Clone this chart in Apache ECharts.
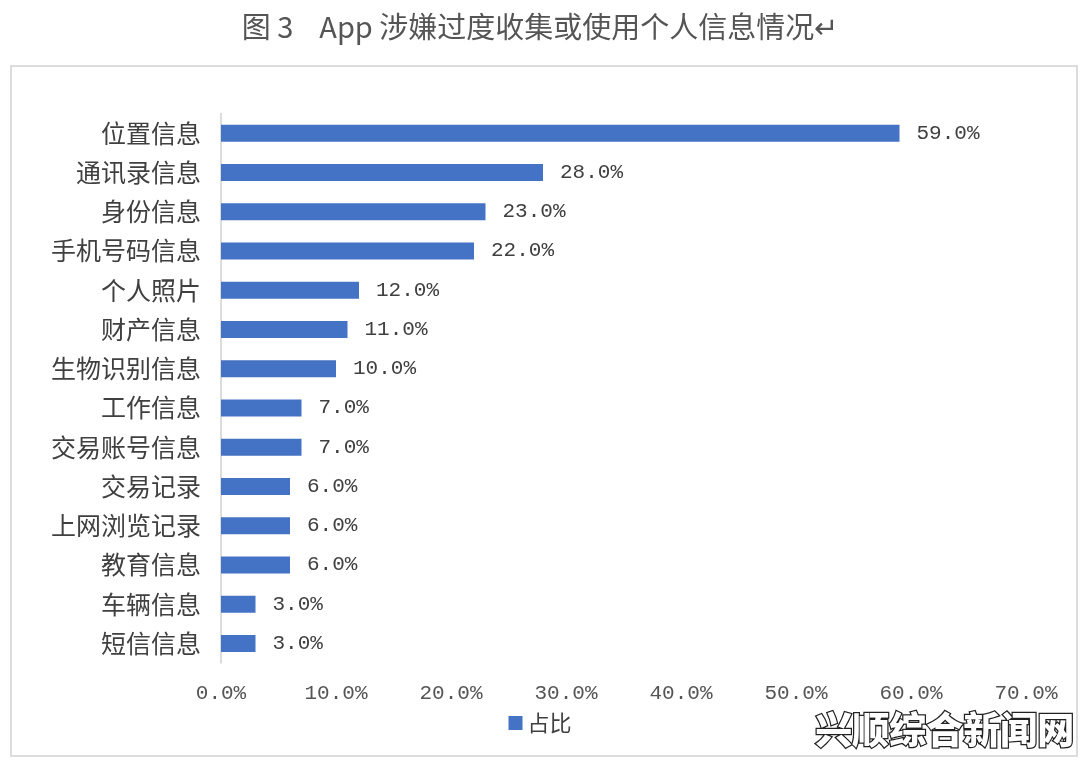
<!DOCTYPE html>
<html>
<head>
<meta charset="utf-8">
<script src="https://cdn.jsdelivr.net/npm/echarts@6/dist/echarts.min.js"></script>
<style>
html,body{margin:0;padding:0;background:#fff;}
#chart{width:1080px;height:766px;}
</style>
</head>
<body>
<div id="chart"></div>
<script>
const titleText = '图 3    App 涉嫌过度收集或使用个人信息情况↵';
const categories = ['位置信息','通讯录信息','身份信息','手机号码信息','个人照片','财产信息','生物识别信息','工作信息','交易账号信息','交易记录','上网浏览记录','教育信息','车辆信息','短信信息'];
const values = [59, 28, 23, 22, 12, 11, 10, 7, 7, 6, 6, 6, 3, 3];
const seriesName = '占比';
const watermark = '兴顺综合新闻网';

const chart = echarts.init(document.getElementById('chart'));
chart.setOption({
  backgroundColor: '#ffffff',
  animation: false,
  title: {
    text: titleText,
    left: 'center',
    top: 7,
    textStyle: {fontFamily: 'Noto Sans CJK SC', fontSize: 29, fontWeight: 'normal', color: '#555555'}
  },
  graphic: [
    {type: 'rect', shape: {x: 11, y: 66, width: 1066, height: 690}, style: {fill: 'none', stroke: '#dcdcdc', lineWidth: 2}, z: -1},
    {type: 'text', left: 814, top: 710, style: {text: watermark, font: '900 37px "Noto Sans CJK SC"', fill: '#ffffff', stroke: '#222222', lineWidth: 2.5}, z: 100}
  ],
  legend: {
    data: [seriesName],
    top: 707,
    left: 'center',
    icon: 'rect',
    itemWidth: 14,
    itemHeight: 14,
    itemGap: 6,
    textStyle: {fontFamily: 'Noto Sans CJK SC', fontSize: 22, color: '#404040'}
  },
  grid: {left: 221, right: 54, top: 113.5, bottom: 103, containLabel: false},
  xAxis: {
    type: 'value',
    min: 0,
    max: 70,
    interval: 10,
    axisLine: {show: false},
    axisTick: {show: false},
    splitLine: {show: false},
    axisLabel: {
      margin: 20,
      fontFamily: 'Liberation Mono',
      fontSize: 21,
      color: '#555555',
      formatter: v => v.toFixed(1) + '%'
    }
  },
  yAxis: {
    type: 'category',
    data: categories,
    inverse: true,
    axisLine: {show: true, lineStyle: {color: '#d0d0d0', width: 1.5}},
    axisTick: {show: false},
    axisLabel: {margin: 20, fontFamily: 'Noto Sans CJK SC', fontSize: 25, color: '#404040'}
  },
  series: [{
    name: seriesName,
    type: 'bar',
    data: values,
    barWidth: 17,
    itemStyle: {color: '#4472C4'},
    label: {
      show: true,
      position: 'right',
      distance: 17,
      fontFamily: 'Liberation Mono',
      fontSize: 21,
      color: '#404040',
      formatter: p => p.value.toFixed(1) + '%'
    }
  }]
});
</script>
</body>
</html>
